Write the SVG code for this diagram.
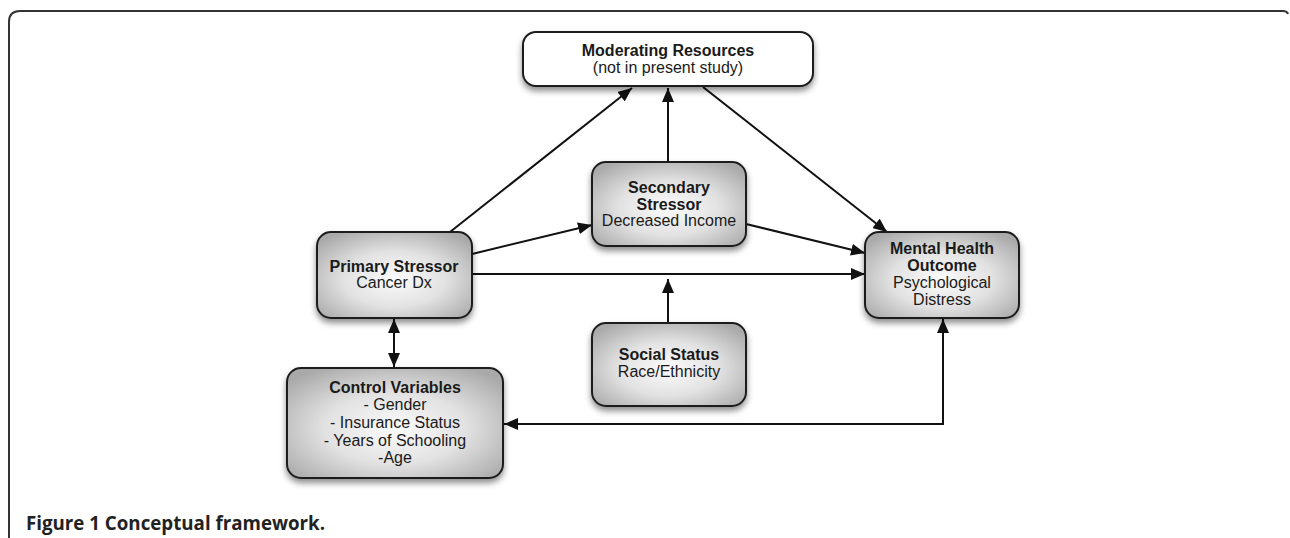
<svg xmlns="http://www.w3.org/2000/svg" width="1290" height="538" viewBox="0 0 1290 538">
<defs>
<style>
.box{stroke:#1e1e1e;stroke-width:2;fill:url(#g);filter:url(#sh)}
.wbox{stroke:#1e1e1e;stroke-width:2;fill:#fff;filter:url(#sh)}
text{font-family:"Liberation Sans",Arial,sans-serif;font-size:16px;fill:#1a1a1a;text-anchor:middle}
.b{font-weight:bold}
.cap{font-family:"Open Sans","Liberation Sans",sans-serif;font-weight:700;font-size:19px;text-anchor:start;fill:#222}
.c{stroke:#111;stroke-width:2;fill:none}
</style>
<radialGradient id="g" cx="50%" cy="55%" r="65%">
<stop offset="0" stop-color="#fbfbfb"/>
<stop offset="0.5" stop-color="#e2e2e2"/>
<stop offset="1" stop-color="#a9a9a9"/>
</radialGradient>
<filter id="sh" x="-10%" y="-10%" width="120%" height="130%">
<feDropShadow dx="0" dy="4" stdDeviation="3" flood-color="#000" flood-opacity="0.45"/>
</filter>
<marker id="a" markerUnits="userSpaceOnUse" markerWidth="15" markerHeight="12" refX="14" refY="6" orient="auto-start-reverse">
<path d="M0,0 L14,6 L0,12 z" fill="#111"/>
</marker>
</defs>
<rect width="1290" height="538" fill="#fff"/>
<path d="M9 538 V22 Q9 11 20 11 H1283 Q1287 11 1288 14" fill="none" stroke="#333" stroke-width="2"/>

<g id="connectors">
<line class="c" x1="450" y1="232" x2="632" y2="88" marker-end="url(#a)"/>
<line class="c" x1="668" y1="162" x2="668" y2="88" marker-end="url(#a)"/>
<line class="c" x1="703" y1="87" x2="887" y2="232" marker-end="url(#a)"/>
<line class="c" x1="472" y1="254" x2="592" y2="225" marker-end="url(#a)"/>
<line class="c" x1="746" y1="224" x2="865" y2="253" marker-end="url(#a)"/>
<line class="c" x1="472" y1="274" x2="865" y2="274" marker-end="url(#a)"/>
<line class="c" x1="668" y1="323" x2="668" y2="279" marker-end="url(#a)"/>
<line class="c" x1="394" y1="319" x2="394" y2="367" marker-start="url(#a)" marker-end="url(#a)"/>
<polyline class="c" points="943,319 943,424 504,424" marker-start="url(#a)" marker-end="url(#a)"/>
</g>

<g id="moderating">
<rect class="wbox" x="523" y="32" width="290" height="54" rx="13"/>
<text x="668" y="56" class="b">Moderating Resources</text>
<text x="668" y="73">(not in present study)</text>
</g>

<g id="secondary">
<rect class="box" x="592" y="162" width="154" height="84" rx="14"/>
<text x="669" y="193" class="b">Secondary</text>
<text x="669" y="210" class="b">Stressor</text>
<text x="669" y="226">Decreased Income</text>
</g>

<g id="primary">
<rect class="box" x="317" y="232" width="155" height="86" rx="14"/>
<text x="394" y="272" class="b">Primary Stressor</text>
<text x="394" y="288">Cancer Dx</text>
</g>

<g id="mental">
<rect class="box" x="865" y="232" width="154" height="86" rx="14"/>
<text x="942" y="254" class="b">Mental Health</text>
<text x="942" y="271" class="b">Outcome</text>
<text x="942" y="288">Psychological</text>
<text x="942" y="305">Distress</text>
</g>

<g id="social">
<rect class="box" x="592" y="323" width="154" height="83" rx="14"/>
<text x="669" y="360" class="b">Social Status</text>
<text x="669" y="377">Race/Ethnicity</text>
</g>

<g id="control">
<rect class="box" x="287" y="368" width="216" height="110" rx="14"/>
<text x="395" y="393" class="b">Control Variables</text>
<text x="395" y="410">- Gender</text>
<text x="395" y="428">- Insurance Status</text>
<text x="395" y="446">- Years of Schooling</text>
<text x="395" y="463">-Age</text>
</g>

<text class="cap" x="26" y="530" textLength="299" lengthAdjust="spacingAndGlyphs">Figure 1 Conceptual framework.</text>
</svg>
